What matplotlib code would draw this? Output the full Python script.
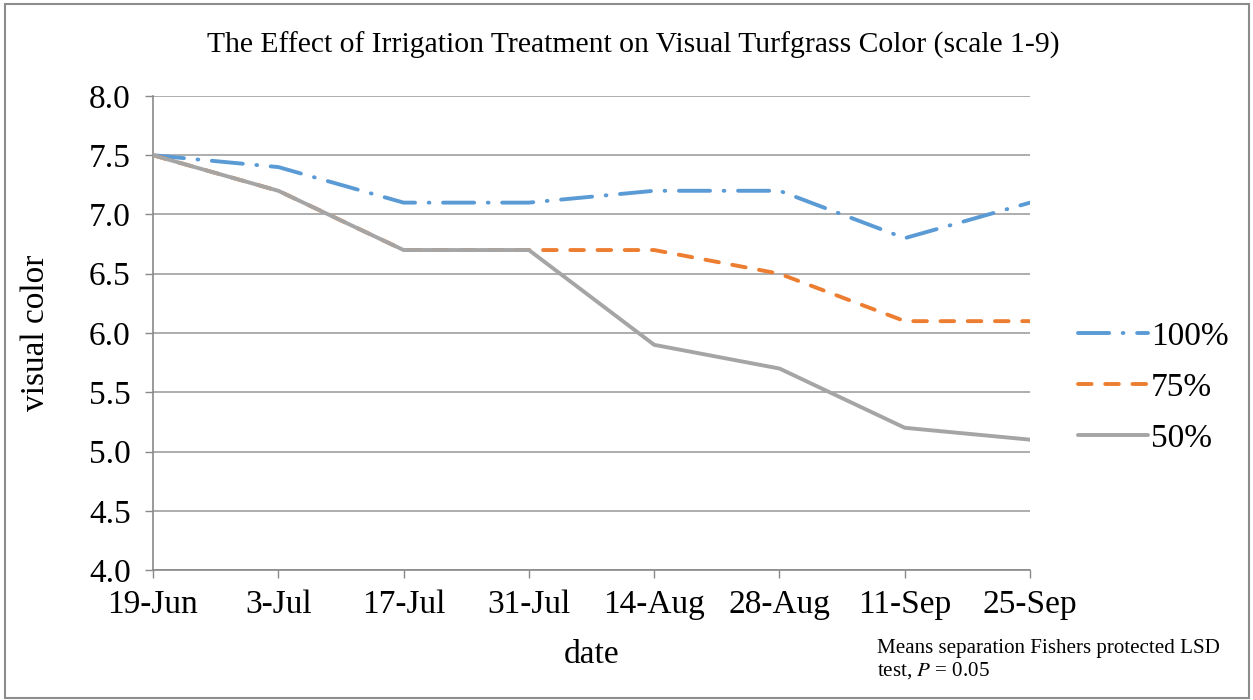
import matplotlib.pyplot as plt
from matplotlib.patches import Rectangle

# data
dates = ['19-Jun', '3-Jul', '17-Jul', '31-Jul', '14-Aug', '28-Aug', '11-Sep', '25-Sep']
irr_100 = [7.5, 7.4, 7.1, 7.1, 7.2, 7.2, 6.8, 7.1]
irr_75 = [7.5, 7.2, 6.7, 6.7, 6.7, 6.5, 6.1, 6.1]
irr_50 = [7.5, 7.2, 6.7, 6.7, 5.9, 5.7, 5.2, 5.1]
y_ticks = [4.0, 4.5, 5.0, 5.5, 6.0, 6.5, 7.0, 7.5, 8.0]

plt.rcParams['font.family'] = ['Liberation Serif', 'DejaVu Serif']
plt.rcParams['mathtext.fontset'] = 'stix'

fig = plt.figure(figsize=(12.53, 7), dpi=100)
ax = fig.add_axes([0.1221, 0.1857, 0.7000, 0.6772])

x = list(range(len(dates)))
ax.plot(x, irr_100, color='#5B9BD5', lw=2.8, dashes=(8, 3.5, 0.2, 3.5),
        dash_capstyle='round', label='100%', zorder=3)
ax.plot(x, irr_75, color='#ED7D31', lw=2.8, dashes=(3.5, 3.5),
        dash_capstyle='round', label='75%', zorder=3)
ax.plot(x, irr_50, color='#A5A5A5', lw=2.8, solid_capstyle='round',
        label='50%', zorder=3)

ax.set_xlim(0, len(dates) - 1)
ax.set_ylim(4.0, 8.0)
ax.set_xticks(x)
ax.set_xticklabels(dates)
ax.set_yticks(y_ticks)
ax.set_yticklabels([f'{v:.1f}' for v in y_ticks])
ax.tick_params(axis='both', labelsize=24, color='#898989', length=6,
               width=1, direction='out')
ax.tick_params(axis='x', pad=8)
ax.tick_params(axis='y', pad=10)

ax.grid(axis='y', color='#A0A0A0', lw=1.2)
ax.set_axisbelow(True)
for s in ['top', 'right']:
    ax.spines[s].set_visible(False)
for s in ['left', 'bottom']:
    ax.spines[s].set_color('#898989')
    ax.spines[s].set_linewidth(1.2)

ax.set_xlabel('date', fontsize=24, labelpad=14)
ax.set_ylabel('visual color', fontsize=24, labelpad=27)

fig.text(0.505, 0.935, 'The Effect of Irrigation Treatment on Visual Turfgrass Color (scale 1-9)',
         ha='center', va='center', fontsize=21.3)

ax.legend(loc='center left', bbox_to_anchor=(1.02, 0.385), frameon=False,
          fontsize=24, handlelength=2.1, handletextpad=0.1, labelspacing=0.62)

fig.text(0.700, 0.057, 'Means separation Fishers protected LSD\ntest, $\\it{P}$ = 0.05',
         ha='left', va='center', fontsize=15.1, linespacing=1.15)

fig.patches.append(Rectangle((0.004, 0.003), 0.993, 0.991, transform=fig.transFigure,
                             fill=False, edgecolor='#8C8C8C', lw=1.5))

fig.savefig('out.png', dpi=100)
